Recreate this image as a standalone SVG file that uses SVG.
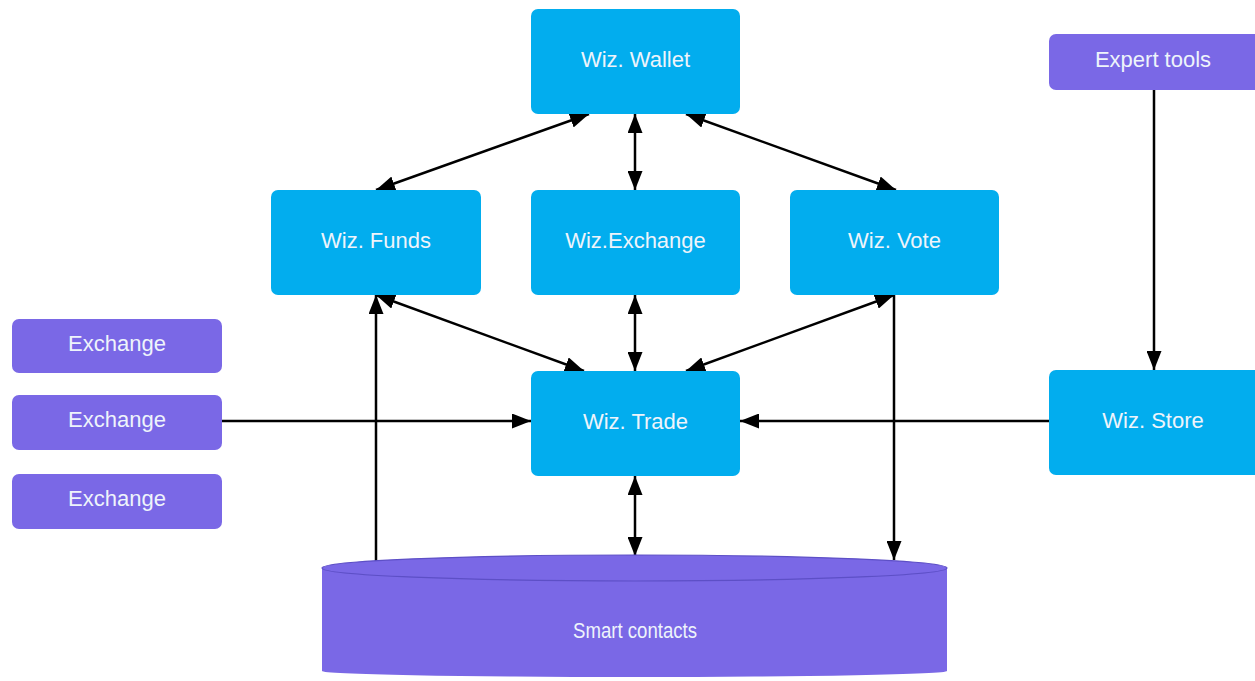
<svg xmlns="http://www.w3.org/2000/svg" width="1255" height="681" viewBox="0 0 1255 681">
<style>
.blue{fill:#02adee}
.purple{fill:#7a68e6}
.t{font-family:"Liberation Sans",Arial,sans-serif;font-size:22px;fill:#eef4fb;text-anchor:middle;dominant-baseline:central}
.c{stroke:#000;stroke-width:2.5;fill:none}
</style>
<defs>
<marker id="ah" markerUnits="userSpaceOnUse" markerWidth="21" markerHeight="15" refX="19" refY="7.5" orient="auto-start-reverse" viewBox="0 0 21 15">
<path d="M0,0 L19,7.5 L0,15 z" fill="#000"/>
</marker>
</defs>
<rect width="1255" height="681" fill="#fff"/>
<g id="connectors">
<line class="c" x1="589" y1="114" x2="376" y2="190" marker-start="url(#ah)" marker-end="url(#ah)"/>
<line class="c" x1="635" y1="114" x2="635" y2="190" marker-start="url(#ah)" marker-end="url(#ah)"/>
<line class="c" x1="686" y1="114" x2="896" y2="190" marker-start="url(#ah)" marker-end="url(#ah)"/>
<line class="c" x1="376" y1="295" x2="584" y2="371" marker-start="url(#ah)" marker-end="url(#ah)"/>
<line class="c" x1="635" y1="295" x2="635" y2="371" marker-start="url(#ah)" marker-end="url(#ah)"/>
<line class="c" x1="894" y1="295" x2="686" y2="371" marker-start="url(#ah)" marker-end="url(#ah)"/>
<line class="c" x1="635" y1="476" x2="635" y2="556" marker-start="url(#ah)" marker-end="url(#ah)"/>
<line class="c" x1="376" y1="562" x2="376" y2="295" marker-end="url(#ah)"/>
<line class="c" x1="894" y1="295" x2="894" y2="560" marker-end="url(#ah)"/>
<line class="c" x1="221" y1="421" x2="531" y2="421" marker-end="url(#ah)"/>
<line class="c" x1="1049" y1="421" x2="740" y2="421" marker-end="url(#ah)"/>
<line class="c" x1="1154" y1="90" x2="1154" y2="370" marker-end="url(#ah)"/>
</g>
<g id="wallet"><rect class="blue" x="531" y="9" width="209" height="105" rx="7"/><text class="t" x="635.5" y="59">Wiz. Wallet</text></g>
<g id="funds"><rect class="blue" x="271" y="190" width="210" height="105" rx="7"/><text class="t" x="376" y="240">Wiz. Funds</text></g>
<g id="exchange-w"><rect class="blue" x="531" y="190" width="209" height="105" rx="7"/><text class="t" x="635.5" y="240">Wiz.Exchange</text></g>
<g id="vote"><rect class="blue" x="790" y="190" width="209" height="105" rx="7"/><text class="t" x="894.5" y="240">Wiz. Vote</text></g>
<g id="trade"><rect class="blue" x="531" y="371" width="209" height="105" rx="7"/><text class="t" x="635.5" y="421">Wiz. Trade</text></g>
<g id="store"><rect class="blue" x="1049" y="370" width="213" height="105" rx="7"/><text class="t" x="1153" y="420">Wiz. Store</text></g>
<g id="expert"><rect class="purple" x="1049" y="34" width="213" height="56" rx="7"/><text class="t" x="1153" y="59">Expert tools</text></g>
<g id="exchange1"><rect class="purple" x="12" y="319" width="210" height="54" rx="7"/><text class="t" x="117" y="343">Exchange</text></g>
<g id="exchange2"><rect class="purple" x="12" y="395" width="210" height="55" rx="7"/><text class="t" x="117" y="419">Exchange</text></g>
<g id="exchange3"><rect class="purple" x="12" y="474" width="210" height="55" rx="7"/><text class="t" x="117" y="498">Exchange</text></g>
<g id="smart">
<path class="purple" d="M322,568 L322,671 A312.5,6 0 0 0 947,671 L947,568 z"/>
<ellipse cx="634.5" cy="568" rx="312.5" ry="13" fill="#7a68e6" stroke="#5d4fc6" stroke-width="1.2"/>
<text class="t" x="635" y="630" textLength="124" lengthAdjust="spacingAndGlyphs">Smart contacts</text>
</g>
</svg>
